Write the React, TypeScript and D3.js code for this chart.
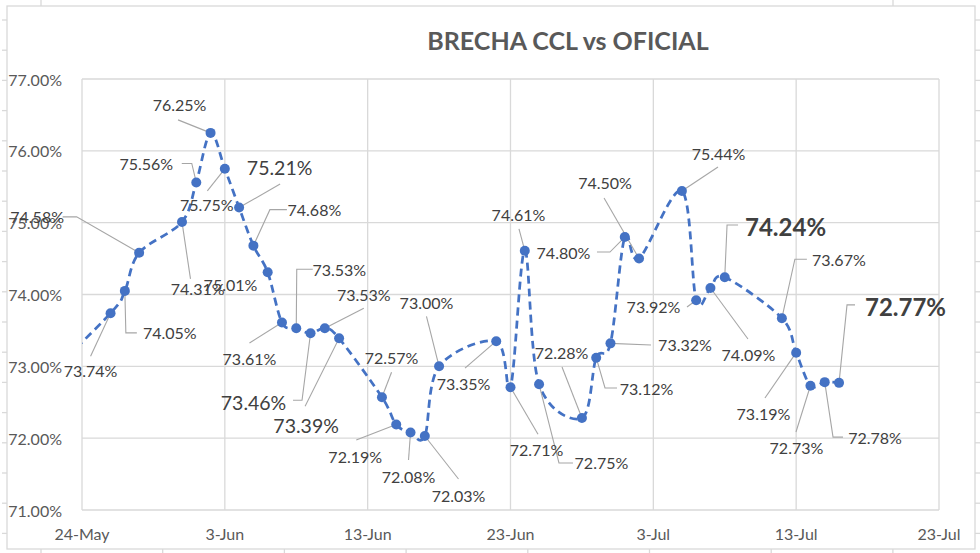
import React from "react";
import * as d3 from "d3";

// ---- data ----
const dates: string[] = [
  "2021-05-21", "2021-05-26", "2021-05-27", "2021-05-28", "2021-05-31", "2021-06-01", "2021-06-02",
  "2021-06-03", "2021-06-04", "2021-06-05", "2021-06-06", "2021-06-07", "2021-06-08", "2021-06-09",
  "2021-06-10", "2021-06-11", "2021-06-14", "2021-06-15", "2021-06-16", "2021-06-17", "2021-06-18",
  "2021-06-22", "2021-06-23", "2021-06-24", "2021-06-25", "2021-06-28", "2021-06-29", "2021-06-30",
  "2021-07-01", "2021-07-02", "2021-07-05", "2021-07-06", "2021-07-07", "2021-07-08", "2021-07-12",
  "2021-07-13", "2021-07-14", "2021-07-15", "2021-07-16",
];
const brecha: number[] = [
  72.75, 73.74, 74.05, 74.58, 75.01, 75.56, 76.25,
  75.75, 75.21, 74.68, 74.31, 73.61, 73.53, 73.46,
  73.53, 73.39, 72.57, 72.19, 72.08, 72.03, 73.0,
  73.35, 72.71, 74.61, 72.75, 72.28, 73.12, 73.32,
  74.8, 74.5, 75.44, 73.92, 74.09, 74.24, 73.67,
  73.19, 72.73, 72.78, 72.77,
];
// index of the first labelled point (the first value lies before the axis start)
const firstLabelled = 1;
const yTicks: number[] = [71, 72, 73, 74, 75, 76, 77];
const xTickDates: string[] = ["2021-05-24", "2021-06-03", "2021-06-13", "2021-06-23", "2021-07-03", "2021-07-13", "2021-07-23"];
const title = "BRECHA CCL vs OFICIAL";

// ---- label layout (offsets in px, style kind) ----
// [dx, dy, ax, ay, stub, kind]  kind: 0 normal, 1 large, 2 bold, 3 no leader
const labelLayout: [number, number, number, number, number, number][] = [
  [-20, 57, 0, -14, 0, 0],
  [45, 42, -33, 0, -11, 0],
  [-102, -36, 25.5, 0, 14, 0],
  [48.5, 63, -40, -6, 0, 0],
  [-50, -19, 35.5, 0, 10, 0],
  [-31, -28, -1.5, 15, 0, 0],
  [-18, 36, 0.5, -14, 0, 0],
  [40.5, -40.5, 0.5, 17, 0, 1],
  [61, -36, -27.5, 0, -17, 0],
  [-70, 16, 0, 0, 0, 3],
  [-32.5, 35.5, 0, -15, 0, 0],
  [43, -59, -26.5, 0, -16, 0],
  [-57, 69, 39.5, -2, 9, 1],
  [39, -34, 0, 14, 0, 0],
  [-33, 87, -1, -19, 0, 1],
  [9.6, -40, 0, 15, 0, 0],
  [-41, 31.5, 1, -16, 0, 0],
  [-2, 43.6, 0, -16, 0, 0],
  [33.7, 59, 0, -16, 0, 0],
  [-12.6, -64, 0, 14, 0, 0],
  [-32.7, 42, 1.5, -15, 0, 0],
  [26, 62, 1.5, -15, 0, 0],
  [-6.3, -35.7, 0.5, 14, 0, 0],
  [62.4, 78.7, -28.5, 0, -14, 0],
  [-20.4, -66, 0.5, 15, 0, 0],
  [50.3, 30.3, -29.5, 0, -12, 0],
  [74.5, 1.6, -34, 0, 0, 0],
  [-61.3, 15, 33.5, 0, 13, 0],
  [-34, -75.6, -1, 15, 0, 0],
  [36.6, -38, -0.5, 14, 0, 0],
  [-42.7, 6.7, 33.5, 0, 0, 0],
  [38, 66, -0.5, -15, 0, 0],
  [60.8, -50.3, -47.5, -2, -11, 2],
  [57, -59, -32, 0, -12, 0],
  [-32.7, 61.3, 1.5, -16, 0, 0],
  [-14, 61.3, -0.5, -15, 0, 0],
  [50.3, 55, -32, 0, -10, 0],
  [66.5, -76, -50.5, -2, -8, 2],
];

const W = 980;
const H = 553;
const FONT = "Lato, 'Open Sans', sans-serif";
const BLUE = "#4472C4";
const GRID = "#d9d9d9";

export default function App() {
  const parse = d3.timeParse("%Y-%m-%d");
  const pts = dates.map((d, i) => ({ date: parse(d) as Date, v: brecha[i] }));
  const x = d3
    .scaleTime()
    .domain([parse(xTickDates[0]) as Date, parse(xTickDates[xTickDates.length - 1]) as Date])
    .range([82, 939]);
  const y = d3.scaleLinear().domain([71, 77]).range([510, 79]);
  const fmtX = d3.timeFormat("%-d-%b");
  const line = d3
    .line<{ date: Date; v: number }>()
    .x((d) => x(d.date))
    .y((d) => y(d.v))
    .curve(d3.curveCardinal.tension(0));

  const frameL = 7, frameR = 975, frameT = 6, frameB = 549;
  const leftTicks = d3.range(18).map((k) => 20 + k * 30.2);
  const bottomTicks = d3.range(8).map((k) => 41 + k * 121.7);

  return (
    <svg width={W} height={H} style={{ position: "absolute", left: 0, top: 0, display: "block", background: "#fff" }} fontFamily={FONT}>
      <defs>
        <clipPath id="plotClip">
          <rect x={82} y={60} width={857} height={460} />
        </clipPath>
      </defs>
      {/* outer frame */}
      <rect x={frameL} y={frameT} width={frameR - frameL} height={frameB - frameT} fill="none" stroke={GRID} strokeWidth={1.3} />
      {[41, 893].map((tx) => (
        <line key={"tt" + tx} x1={tx} x2={tx} y1={0} y2={frameT} stroke={GRID} strokeWidth={1.3} />
      ))}
      {bottomTicks.map((tx) => (
        <line key={"bt" + tx} x1={tx} x2={tx} y1={frameB} y2={H} stroke={GRID} strokeWidth={1.3} />
      ))}
      {leftTicks.map((ty) => (
        <line key={"lt" + ty} x1={2} x2={frameL} y1={ty} y2={ty} stroke={GRID} strokeWidth={1.3} />
      ))}
      {leftTicks.map((ty) => (
        <line key={"rt" + ty} x1={frameR} x2={980} y1={ty} y2={ty} stroke={GRID} strokeWidth={1.3} />
      ))}

      {/* title */}
      <text x={568} y={40} textAnchor="middle" dominantBaseline="central" fontSize={25} fontWeight="bold" fill="#595959">
        {title}
      </text>

      {/* gridlines */}
      {yTicks.map((t) => (
        <line key={"gy" + t} x1={82} x2={939} y1={y(t)} y2={y(t)} stroke={GRID} strokeWidth={1.3} />
      ))}
      {xTickDates.map((d) => {
        const xx = x(parse(d) as Date);
        return <line key={"gx" + d} x1={xx} x2={xx} y1={79} y2={510} stroke={GRID} strokeWidth={1.3} />;
      })}

      {/* axis labels */}
      {yTicks.map((t) => (
        <text key={"yl" + t} x={62} y={y(t)} textAnchor="end" dominantBaseline="central" fontSize={16} fill="#595959">
          {t.toFixed(2) + "%"}
        </text>
      ))}
      {xTickDates.map((d) => (
        <text key={"xl" + d} x={x(parse(d) as Date)} y={533} textAnchor="middle" dominantBaseline="central" fontSize={16} fill="#595959">
          {fmtX(parse(d) as Date)}
        </text>
      ))}

      {/* series */}
      <path d={line(pts) || ""} fill="none" stroke={BLUE} strokeWidth={2.75} strokeDasharray="8,5" clipPath="url(#plotClip)" />

      {/* leader lines */}
      {pts.slice(firstLabelled).map((p, i) => {
        const [dx, dy, ax, ay, stub, kind] = labelLayout[i];
        if (kind === 3) return null;
        const px = x(p.date), py = y(p.v);
        const sx = px + dx + ax, sy = py + dy + ay;
        const path = d3.path();
        path.moveTo(sx, sy);
        if (stub !== 0) path.lineTo(sx + stub, sy);
        path.lineTo(px, py);
        return <path key={"ld" + i} d={path.toString()} fill="none" stroke="#a6a6a6" strokeWidth={1.1} />;
      })}

      {/* markers */}
      {pts.slice(firstLabelled).map((p, i) => (
        <circle key={"m" + i} cx={x(p.date)} cy={y(p.v)} r={5} fill={BLUE} />
      ))}

      {/* data labels */}
      {pts.slice(firstLabelled).map((p, i) => {
        const [dx, dy, , , , kind] = labelLayout[i];
        const size = kind === 1 ? 19.5 : kind === 2 ? 24 : 16;
        return (
          <text
            key={"lb" + i}
            x={x(p.date) + dx}
            y={y(p.v) + dy}
            textAnchor="middle"
            dominantBaseline="central"
            fontSize={size}
            fontWeight={kind === 2 ? "bold" : "normal"}
            fill="#404040"
          >
            {p.v.toFixed(2) + "%"}
          </text>
        );
      })}
    </svg>
  );
}
